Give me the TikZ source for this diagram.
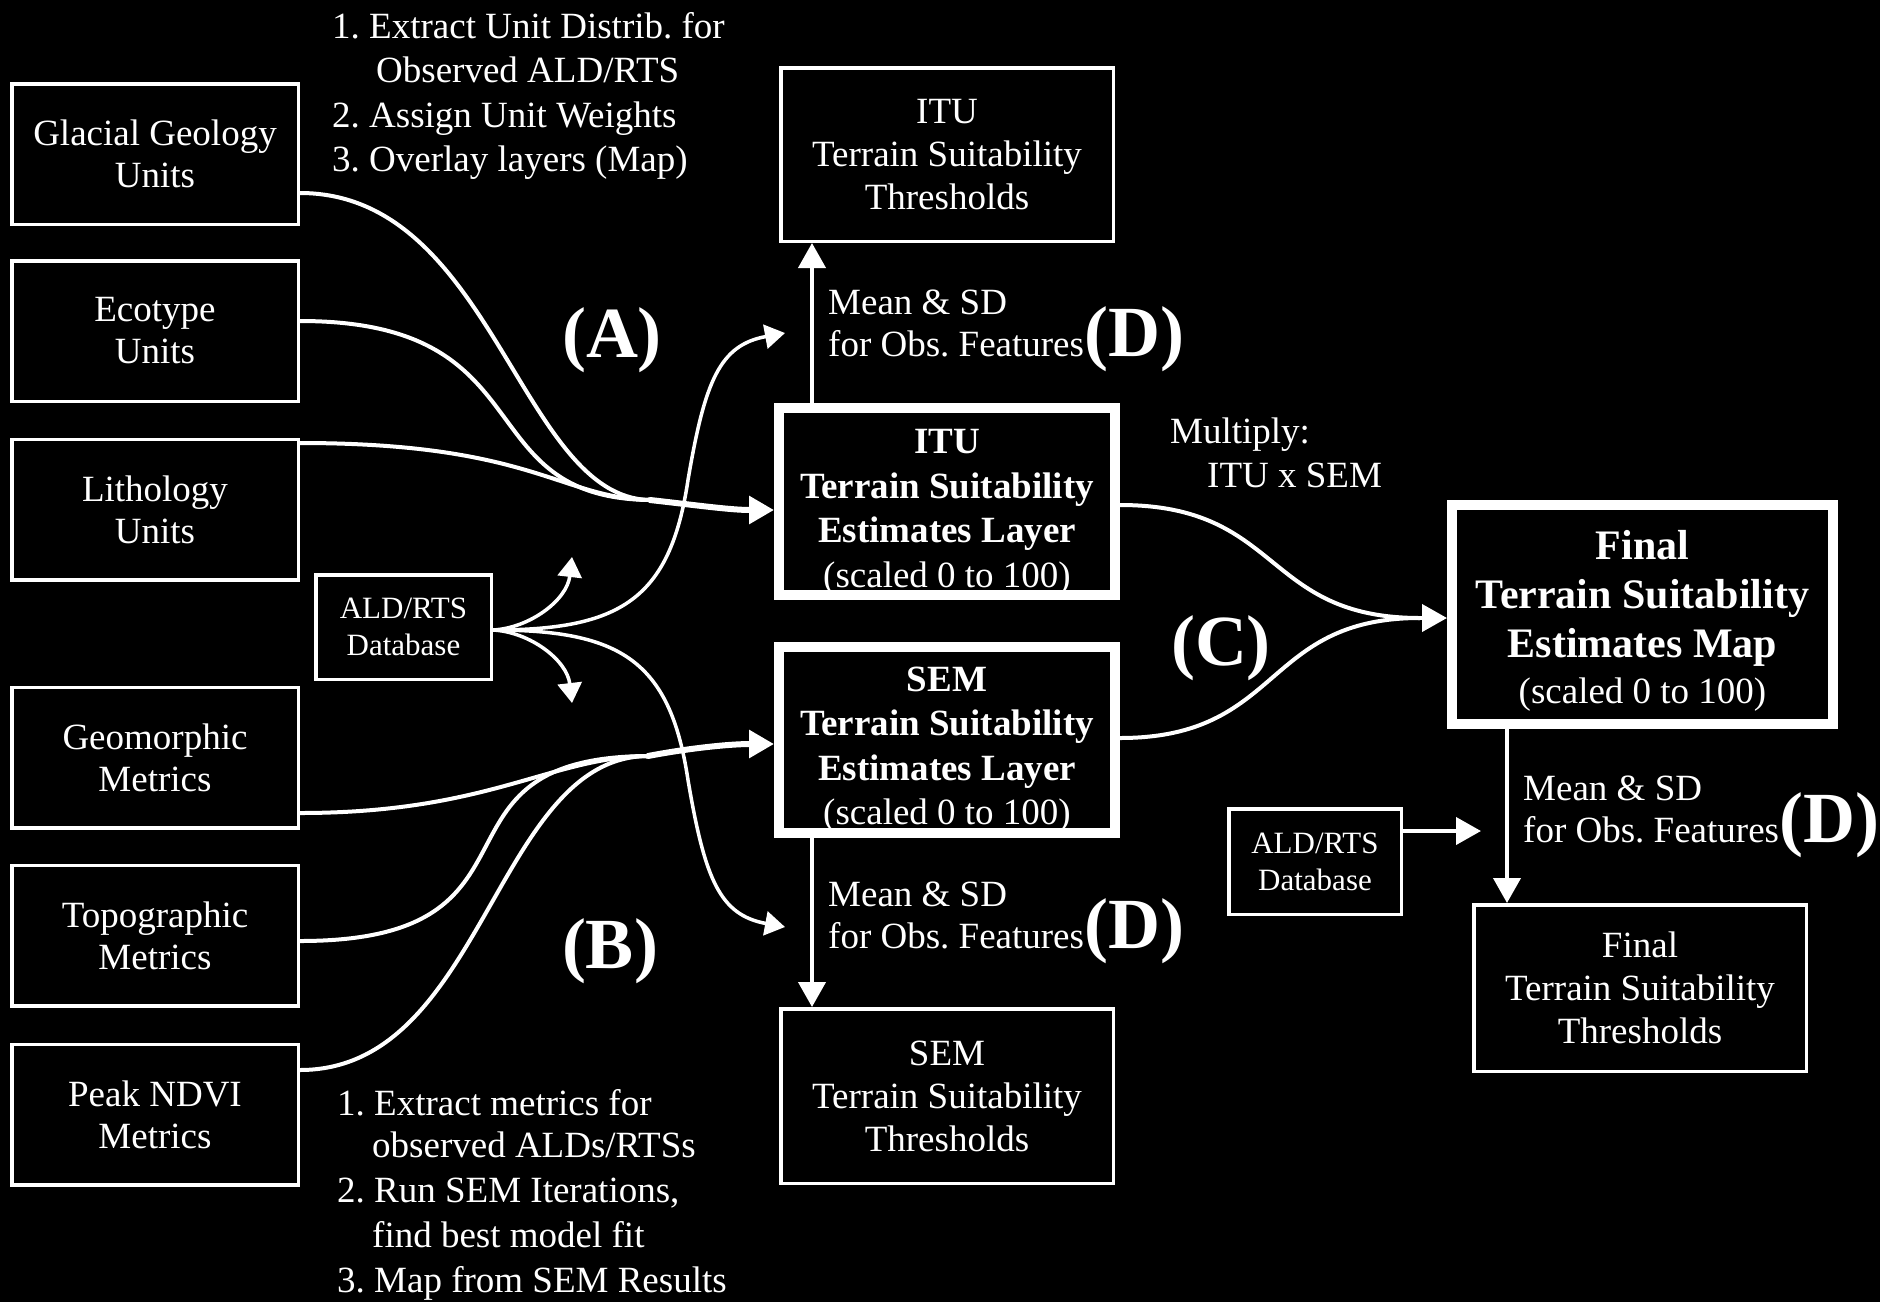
\documentclass[tikz,border=0pt]{standalone}
\usepackage{fontspec}
\setmainfont{Liberation Serif}
\usetikzlibrary{arrows.meta}
\newcommand{\tagfont}{\bfseries\fontsize{72}{80}\selectfont}
\newcommand{\toppad}[1]{\rule{0pt}{#1}}
\frenchspacing
\begin{document}
\begin{tikzpicture}[x=1pt,y=-1pt,
  txt/.style={text=white,inner sep=0pt},
  thinbox/.style={txt,draw=white,line width=3.5pt,fill=black,align=center,
    font=\fontsize{37}{42}\selectfont},
  leftbox/.style={thinbox,minimum width=286.5pt,minimum height=140.5pt},
  resultbox/.style={thinbox,minimum width=332.5pt,font=\fontsize{37}{43}\selectfont},
  thickbox/.style={txt,draw=white,line width=10pt,fill=black,align=center,
    font=\fontsize{37}{44.5}\selectfont},
  dbbox/.style={thinbox,font=\fontsize{31}{37}\selectfont},
  note/.style={txt,anchor=base west,font=\fontsize{37}{43}\selectfont},
  steptag/.style={txt,anchor=base,font=\tagfont},
  conn/.style={draw=white,line width=4pt,line cap=round},
  dbconn/.style={draw=white,line width=3.5pt,line cap=round},
  mainconn/.style={draw=white,line width=6pt,line cap=round},
  tip/.style={-{Triangle[length=25pt,width=27pt]}},
  smalltip/.style={-{Triangle[length=20pt,width=24pt]}}
]
\useasboundingbox (0,0) rectangle (1880,1302);
\fill[black] (0,0) rectangle (1880,1302);

% input layers
\node[leftbox] (glacial) at (155,154)    {Glacial Geology\\Units};
\node[leftbox] (ecotype) at (155,331)    {Ecotype\\Units};
\node[leftbox] (litho)   at (155,509.5)  {Lithology\\Units};
\node[leftbox] (geomorph) at (155,757.5) {Geomorphic\\Metrics};
\node[leftbox] (topo)    at (155,935.5)  {Topographic\\Metrics};
\node[leftbox] (ndvi)    at (155,1114.5) {Peak NDVI\\Metrics};

% observation databases
\node[dbbox,minimum width=175.5pt,minimum height=104.5pt] (ald1) at (403.5,627) {ALD/RTS\\Database};
\node[dbbox,minimum width=172.5pt,minimum height=105.5pt] (ald2) at (1315,861.5) {ALD/RTS\\Database};

% estimate layers
\node[thickbox,minimum width=336pt,minimum height=187pt] (itue) at (947,501.5)
  {\toppad{46pt}\textbf{ITU}\\\textbf{Terrain Suitability}\\\textbf{Estimates Layer}\\(scaled 0 to 100)};
\node[thickbox,minimum width=336pt,minimum height=184pt] (seme) at (947,740)
  {\toppad{44pt}\textbf{SEM}\\\textbf{Terrain Suitability}\\\textbf{Estimates Layer}\\(scaled 0 to 100)};
\node[thickbox,minimum width=381pt,minimum height=219pt,
  font=\fontsize{42}{49}\selectfont] (fin) at (1642.5,614.5)
  {\toppad{42pt}\textbf{Final}\\\textbf{Terrain Suitability}\\\textbf{Estimates Map}\\[-3pt]{\fontsize{37}{44}\selectfont(scaled 0 to 100)}};

% thresholds
\node[resultbox,minimum height=173.5pt] (itut) at (947,154.5) {ITU\\Terrain Suitability\\Thresholds};
\node[resultbox,minimum height=174.5pt] (semt) at (947,1096) {SEM\\Terrain Suitability\\Thresholds};
\node[resultbox,minimum height=166.5pt] (fint) at (1640,988) {Final\\Terrain Suitability\\Thresholds};

% step notes
\node[note] (na1) at (332,38)  {1. Extract Unit Distrib. for};
\node[note] (na2) at (376,82)  {Observed ALD/RTS};
\node[note] (na3) at (332,127) {2. Assign Unit Weights};
\node[note] (na4) at (332,171) {3. Overlay layers (Map)};

\node[note] (nb1) at (337,1115) {1. Extract metrics for};
\node[note] (nb2) at (372,1157) {observed ALDs/RTSs};
\node[note] (nb3) at (337,1202) {2. Run SEM Iterations,};
\node[note] (nb4) at (372,1247) {find best model fit};
\node[note] (nb5) at (337,1292) {3. Map from SEM Results};

\node[note] (ms1a) at (828,314) {Mean \& SD};
\node[note] (ms1b) at (828,356) {for Obs. Features{\tagfont(D)}};
\node[note] (ms2a) at (828,906) {Mean \& SD};
\node[note] (ms2b) at (828,948) {for Obs. Features{\tagfont(D)}};
\node[note] (ms3a) at (1523,800) {Mean \& SD};
\node[note] (ms3b) at (1523,842) {for Obs. Features{\tagfont(D)}};

\node[note] (mul1) at (1170,443) {Multiply:};
\node[note] (mul2) at (1207,487) {ITU x SEM};

\node[steptag] (tagA) at (612,357) {(A)};
\node[steptag] (tagB) at (610,968) {(B)};
\node[steptag] (tagC) at (1221,665) {(C)};

% (A) unit overlay
\coordinate (mA) at (650,500);
\draw[conn] ([yshift=-39pt]glacial.east) .. controls (493,193) and (520,498) .. (mA);
\draw[conn] ([yshift=10pt]ecotype.east) .. controls (548,321) and (465,498) .. (mA);
\draw[conn] ([yshift=66.5pt]litho.east) .. controls (532,443) and (560,498) .. (mA);
\draw[mainconn,tip] (mA) .. controls (695,505) and (730,510) .. ([yshift=-8.5pt]itue.west);

% (B) structural equation model
\coordinate (mB) at (648,756);
\draw[conn] ([yshift=-55.5pt]geomorph.east) .. controls (489,813) and (551,757) .. (mB);
\draw[conn] ([yshift=-5.5pt]topo.east) .. controls (564,941) and (412,757) .. (mB);
\draw[conn] ([yshift=44.5pt]ndvi.east) .. controls (484,1070) and (495,757) .. (mB);
\draw[mainconn,tip] (mB) .. controls (690,748) and (730,744) .. ([yshift=-4pt]seme.west);

% (C) combination
\coordinate (mC) at (1420,618);
\draw[conn] ([yshift=-3.5pt]itue.east) .. controls (1283,505) and (1262,618) .. (mC);
\draw[conn] ([yshift=2pt]seme.east) .. controls (1283,738) and (1262,618) .. (mC);
\draw[conn,tip] (mC) -- ([yshift=-3.5pt]fin.west);

% (D) thresholds
\coordinate (vx) at (812,0);
\coordinate (fx) at (1507,0);
\draw[conn,tip] (itue.north -| vx) -- (itut.south -| vx);
\draw[conn,tip] (seme.south -| vx) -- (semt.north -| vx);
\draw[conn,tip] (fin.south -| fx) -- (fint.north -| fx);
\coordinate (d2) at (1481,831);
\draw[conn,tip] (ald2.east |- d2) -- (d2);

% database feeds
\coordinate (upA) at (572,557);
\coordinate (dnA) at (572,703);
\coordinate (upL) at (785,333);
\coordinate (dnL) at (785,927);
\draw[dbconn,smalltip] ([yshift=-3pt]ald1.east) .. controls (530,628) and (567,600) .. (upA);
\draw[dbconn,smalltip] ([yshift=-3pt]ald1.east) .. controls (530,632) and (567,660) .. (dnA);
\draw[dbconn,smalltip] ([yshift=-3pt]ald1.east) .. controls (620,630) and (670,600) .. (688,480)
  .. controls (705,380) and (720,345) .. (upL);
\draw[dbconn,smalltip] ([yshift=-3pt]ald1.east) .. controls (620,630) and (670,660) .. (688,780)
  .. controls (705,880) and (720,915) .. (dnL);
\end{tikzpicture}
\end{document}
